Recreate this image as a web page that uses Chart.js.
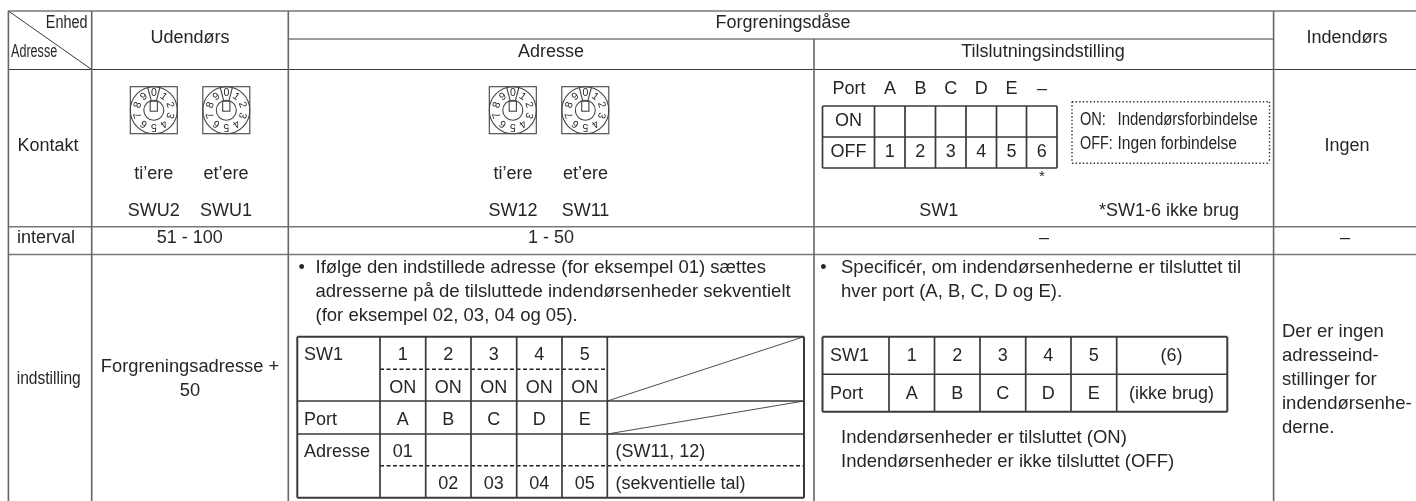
<!DOCTYPE html>
<html><head><meta charset="utf-8">
<style>html,body{margin:0;padding:0;background:#fff}#wrap{position:absolute;left:0;top:0;width:1416px;height:501px}</style>
<script src="https://cdn.jsdelivr.net/npm/chart.js@4"></script>
</head><body><div id="wrap"><canvas id="c"></canvas></div>
<script>
const headerLabels = ["Udendørs","Forgreningsdåse","Adresse","Tilslutningsindstilling","Indendørs"];
const rowLabels = ["Kontakt","interval","indstilling"];
const intervalValues = ["51 - 100","1 - 50","–","–"];
const portLabels = ["A","B","C","D","E","–"];
const switchNumbers = ["1","2","3","4","5","6"];
const dialDigits = ["0","1","2","3","4","5","6","7","8","9"];
const leftNote = ["Ifølge den indstillede adresse (for eksempel 01) sættes","adresserne på de tilsluttede indendørsenheder sekventielt","(for eksempel 02, 03, 04 og 05)."];
const rightNote = ["Specificér, om indendørsenhederne er tilsluttet til","hver port (A, B, C, D og E)."];
const onOffNote = ["Indendørsenheder er tilsluttet (ON)","Indendørsenheder er ikke tilsluttet (OFF)"];
const indoorNote = ["Der er ingen","adresseind-","stillinger for","indendørsenhe-","derne."];
const portRow = ["A","B","C","D","E"];
const onRow = ["ON","ON","ON","ON","ON"];
const addressRow = ["02","03","04","05"];

const INK="#262626", GRID="#666", DARK="#3a3a3a";
const lineSets=[];
function L(x1,y1,x2,y2,color,w,dash){lineSets.push({data:[{x:x1,y:y1},{x:x2,y:y2}],showLine:true,borderColor:color||GRID,borderWidth:w||1.6,borderDash:dash||[],pointRadius:0,pointHoverRadius:0,fill:false,tension:0,clip:false});}

const T=11,H1=39,H2=69.5,R1=226.7,R2=254.5,B=501;
[8.4,91.7,288.3,1273.6].forEach(x=>L(x,T,x,B));
L(814,H1,814,B);
L(288,H1,1274,H1,DARK,1.2);
L(8.4,T,1416,T,"#777",1.7);
L(8.4,H2,1416,H2,DARK,1.2);
L(8.4,R1,1416,R1,"#777",1.6);
L(8.4,R2,1416,R2,"#777",1.6);
L(8.4,T,91.7,H2,DARK,1);
const swX=[822.5,874.5,905,935.5,966,996.5,1026.5,1057], swY=[106,137,168];
swX.forEach(x=>L(x,swY[0],x,swY[2],DARK,1.7));
swY.forEach(y=>L(swX[0],y,swX[7],y,DARK,1.7));
const DOT=[1.4,2.2];
L(1072,101.7,1269.5,101.7,"#333",1.4,DOT);L(1072,163.3,1269.5,163.3,"#333",1.4,DOT);L(1072,101.7,1072,163.3,"#333",1.4,DOT);L(1269.5,101.7,1269.5,163.3,"#333",1.4,DOT);
const aX=[297.3,380,425.7,471,516.7,562,607.3,804], aY=[336.7,369.3,401,434,465.7,497.7];
aX.forEach((x,i)=>L(x,aY[0],x,aY[5],DARK,(i==0||i==7)?2:1.7));
[0,2,3,5].forEach(j=>L(aX[0],aY[j],aX[7],aY[j],DARK,(j==0||j==5)?2:1.6));
L(aX[1],aY[1],aX[6],aY[1],"#222",1.4,[4,2.5]);
L(aX[1],aY[4],aX[7],aY[4],"#222",1.4,[4,2.5]);
L(aX[6],aY[2],aX[7],aY[0],DARK,0.9);
L(aX[6],aY[3],aX[7],aY[2],DARK,0.9);
const bX=[822.5,889,934.5,980,1025.7,1071,1116.7,1227.3], bY=[336.7,374.3,411.7];
bX.forEach((x,i)=>L(x,bY[0],x,bY[2],DARK,(i==0||i==7)?2:1.7));
bY.forEach((y,j)=>L(bX[0],y,bX[7],y,DARK,j==1?1.6:2));

const FONT='"Liberation Sans",Arial,sans-serif';
function dial(ctx,x,y,s){
  const cx=x+s/2,cy=y+s/2,R=s/2;
  ctx.save();ctx.strokeStyle="#444";ctx.lineWidth=1.1;
  ctx.strokeRect(x,y,s,s);
  ctx.beginPath();ctx.arc(cx,cy,R,0,Math.PI*2);ctx.stroke();
  ctx.beginPath();ctx.arc(cx,cy,10,0,Math.PI*2);ctx.stroke();
  ctx.strokeRect(cx-3.6,cy-9,7.2,10);
  [-15,15].forEach(a=>{const r=a*Math.PI/180;ctx.beginPath();ctx.moveTo(cx+Math.sin(r)*10,cy-Math.cos(r)*10);ctx.lineTo(cx+Math.sin(r)*R,cy-Math.cos(r)*R);ctx.stroke();});
  ctx.fillStyle=INK;ctx.font='10.5px '+FONT;ctx.textAlign='center';ctx.textBaseline='middle';
  dialDigits.forEach((d,i)=>{const a=i*36*Math.PI/180;ctx.save();ctx.translate(cx+Math.sin(a)*16.8,cy-Math.cos(a)*16.8);ctx.rotate(a);ctx.fillText(d,0,0);ctx.restore();});
  ctx.restore();
}
const tablePlugin={id:'tableText',afterDatasetsDraw(chart){
  const ctx=chart.ctx,sx=chart.scales.x,sy=chart.scales.y;
  const X=v=>sx.getPixelForValue(v),Y=v=>sy.getPixelForValue(v);
  const t=(s,x,y,al,sz,xs)=>{ctx.save();ctx.font=(sz||18)+'px '+FONT;ctx.textAlign=al||'center';ctx.textBaseline='middle';ctx.fillStyle=INK;ctx.translate(X(x),Y(y));if(xs)ctx.scale(xs,1);ctx.fillText(s,0,0);ctx.restore();};
  t("Enhed",87.5,23,'right',18,.8);t("Adresse",11,52.5,'left',18,.7);
  t(headerLabels[0],190,37.7);t(headerLabels[1],783,23);t(headerLabels[2],551,52.5);t(headerLabels[3],1043,52.5);t(headerLabels[4],1347,37.7);
  t(rowLabels[0],48,145.7);t(rowLabels[1],46,238);t(rowLabels[2],48.7,379.3,'center',18,.865);
  [[153.7,"ti’ere","SWU2"],[226,"et’ere","SWU1"],[513,"ti’ere","SW12"],[585.5,"et’ere","SW11"]].forEach(a=>{t(a[1],a[0],174);t(a[2],a[0],211);});
  dial(ctx,X(130.3),Y(86.7),47);dial(ctx,X(202.8),Y(86.7),47);dial(ctx,X(489.3),Y(86.7),47);dial(ctx,X(561.8),Y(86.7),47);
  t("Port",849,89);
  portLabels.forEach((p,i)=>t(p,890+i*30.4,89));
  t("ON",848.5,120.7);t("OFF",848.5,151.7);
  switchNumbers.forEach((n,i)=>t(n,(swX[i+1]+swX[i+2])/2,151.7));
  t("*",1042,177,'center',15);
  t("SW1",938.7,211);t("*SW1-6 ikke brug",1169,211);
  t("ON:",1080,120,'left',18,.81);t("Indendørsforbindelse",1117.5,120,'left',18,.83);
  t("OFF:",1080,144,'left',18,.8);t("Ingen forbindelse",1117.5,144,'left',18,.865);
  t("Ingen",1347,146);
  t(intervalValues[0],189.7,238);t(intervalValues[1],551,238);t(intervalValues[2],1044,238);t(intervalValues[3],1345,238);
  t("Forgreningsadresse +",190,366.7,'center',18.3);t("50",190,390.7,'center',18.3);
  t("•",301.7,268);leftNote.forEach((s,i)=>t(s,315.5,268+i*24,'left',18.5));
  t("•",823.5,268);rightNote.forEach((s,i)=>t(s,841,268+i*24,'left',18.5));
  t("SW1",304,355,'left');t("Port",304,420,'left');t("Adresse",304,452.3,'left');
  portRow.forEach((p,i)=>{const c=(aX[i+1]+aX[i+2])/2;t(switchNumbers[i],c,355);t(onRow[i],c,387.7);t(p,c,420);if(i>0)t(addressRow[i-1],c,484);});
  t("01",(aX[1]+aX[2])/2,452.3);t("(SW11, 12)",615.5,452.3,'left');t("(sekventielle tal)",615.5,484,'left');
  t("SW1",830,355.7,'left');t("Port",830,394,'left');
  switchNumbers.slice(0,5).forEach((n,i)=>{const c=(bX[i+1]+bX[i+2])/2;t(n,c,355.7);t(portRow[i],c,394);});
  t("(6)",1171.5,355.7);t("(ikke brug)",1171.5,394);
  onOffNote.forEach((s,i)=>t(s,841,438+i*24,'left',18.5));
  indoorNote.forEach((s,i)=>t(s,1282,331.7+i*24,'left',18.5));
}};
new Chart(document.getElementById('c'),{type:'scatter',data:{datasets:lineSets},plugins:[tablePlugin],options:{
  responsive:true,maintainAspectRatio:false,animation:false,devicePixelRatio:1,
  layout:{padding:0},events:[],
  plugins:{legend:{display:false},tooltip:{enabled:false},title:{display:false}},
  scales:{x:{type:'linear',display:false,min:0,max:1416,offset:false},y:{type:'linear',display:false,reverse:true,min:0,max:501}}
}});
</script></body></html>
